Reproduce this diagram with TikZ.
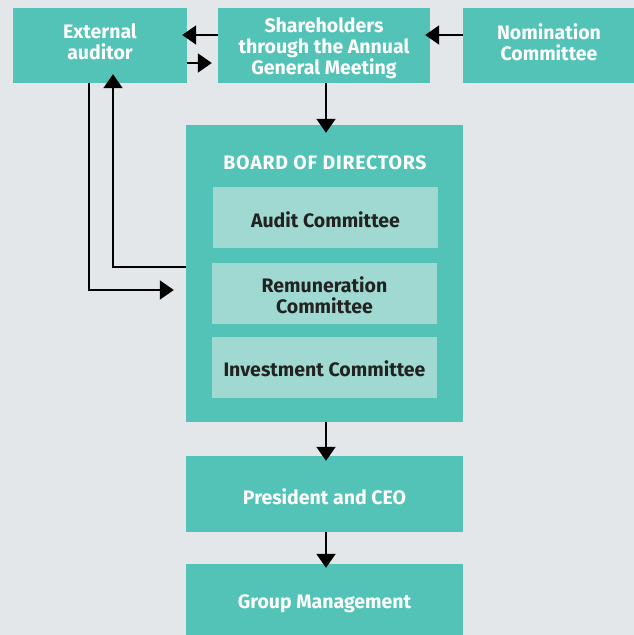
\documentclass[tikz,border=0pt]{standalone}
\usepackage{fontspec}
\setmainfont{Fira Sans}
\usetikzlibrary{arrows.meta}
\definecolor{bgc}{HTML}{E3E7EA}
\definecolor{teal}{HTML}{54C3B7}
\definecolor{pale}{HTML}{9FD9D1}
\definecolor{ink}{HTML}{222222}
\tikzset{
  lbl/.style={font=\bfseries\fontsize{19.5}{21}\selectfont, align=center, inner sep=0pt},
  wtxt/.style={lbl, text=white},
  dtxt/.style={lbl, text=ink},
  box/.style={fill=teal, inner sep=0pt},
  sub/.style={fill=pale, inner sep=0pt},
  link/.style={draw=black, line width=2pt, -{Triangle[length=14pt,width=19pt]}},
}
\begin{document}
\begin{tikzpicture}[x=1pt,y=-1pt]
  \fill[bgc] (0,0) rectangle (634,635);
  \useasboundingbox (0,0) rectangle (634,635);
  % top row
  \node[box, minimum width=174pt, minimum height=75pt] (aud) at (100,45.5) {};
  \node[box, minimum width=212pt, minimum height=75pt] (agm) at (324,45.5) {};
  \node[box, minimum width=171pt, minimum height=75pt] (nom) at (548.5,45.5) {};
  \node[wtxt] (audt) at (100,42) {External\\auditor};
  \node[wtxt] (agmt) at (324,48) {Shareholders\\through the Annual\\General Meeting};
  \node[wtxt] (nomt) at (549,42) {Nomination\\Committee};
  % board and its committees
  \node[box, minimum width=277pt, minimum height=297pt] (bod) at (324.5,273.5) {};
  \node[wtxt, font=\bfseries\fontsize{19.5}{21}\selectfont\addfontfeatures{LetterSpace=4}] (bodt) at (325,163) {BOARD OF DIRECTORS};
  \node[sub, minimum width=225pt, minimum height=61pt] (ac) at (325.5,217.5) {};
  \node[sub, minimum width=225pt, minimum height=61pt] (rc) at (324.5,293.5) {};
  \node[sub, minimum width=225pt, minimum height=61pt] (ic) at (324.5,367.5) {};
  \node[dtxt] (act) at (325.5,220) {Audit Committee};
  \node[dtxt] (rct) at (324.5,295) {Remuneration\\Committee};
  \node[dtxt] (ict) at (324.5,369) {Investment Committee};
  % executive levels
  \node[box, minimum width=277pt, minimum height=76pt] (ceo) at (324.5,494) {};
  \node[box, minimum width=277pt, minimum height=78pt] (gm) at (324.5,603) {};
  \node[wtxt] (ceot) at (324.5,497) {President and CEO};
  \node[wtxt] (gmt) at (324.5,604) {Group Management};
  % connectors
  \draw[link] (agm.west |- 0,35) -- ([xshift=-5pt]aud.east |- 0,35);
  \draw[link] (aud.east |- 0,63) -- ([xshift=-6pt]agm.west |- 0,63);
  \draw[link] (nom.west |- 0,35) -- ([xshift=-5pt]agm.east |- 0,35);
  \draw[link] (agm.south -| 326,0) -- ([yshift=-8pt]bod.north -| 326,0);
  \draw[link] (bod.south -| 326,0) -- ([yshift=-5pt]ceo.north -| 326,0);
  \draw[link] (ceo.south -| 326,0) -- ([yshift=-4pt]gm.north -| 326,0);
  \draw[link] (aud.south -| 89,0) |- ([xshift=-12pt]bod.west |- 0,290);
  \draw[link] (bod.west |- 0,267) -| ([yshift=9pt]aud.south -| 113,0);
\end{tikzpicture}
\end{document}
